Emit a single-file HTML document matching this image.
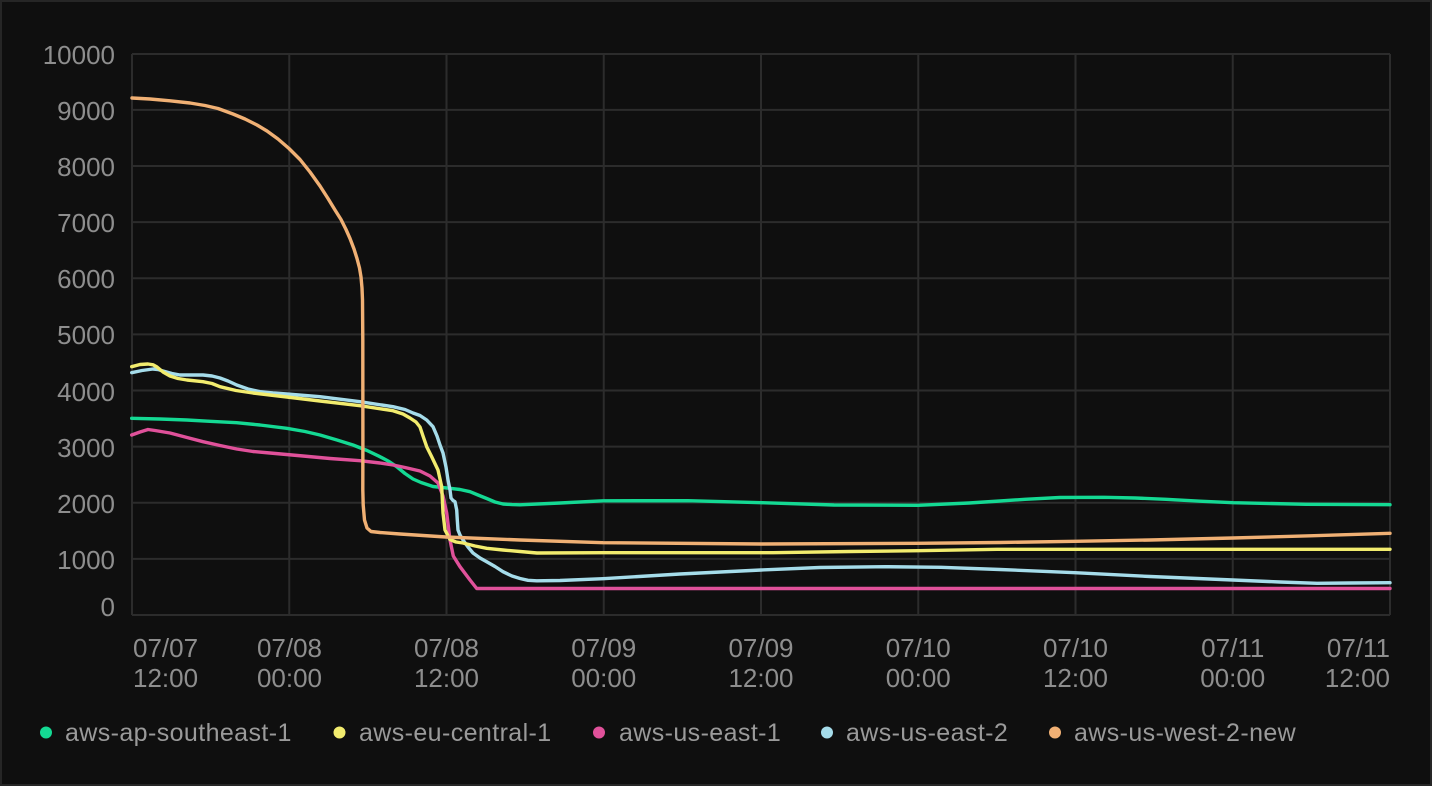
<!DOCTYPE html>
<html>
<head>
<meta charset="utf-8">
<style>
  html,body{margin:0;padding:0;background:#0f0f0f;}
  body{width:1432px;height:786px;overflow:hidden;}
  svg{display:block;}
  text{font-family:"Liberation Sans", sans-serif;}
</style>
</head>
<body>
<svg width="1432" height="786" viewBox="0 0 1432 786" xmlns="http://www.w3.org/2000/svg">
  <rect x="0" y="0" width="1432" height="786" fill="#0f0f0f"/>
  <rect x="1" y="1" width="1430" height="784" fill="none" stroke="#262626" stroke-width="2"/>

  <!-- grid -->
  <g stroke="#2c2c2c" stroke-width="2" fill="none">
    <line x1="132" y1="54" x2="1390" y2="54"/>
    <line x1="132" y1="109.9" x2="1390" y2="109.9"/>
    <line x1="132" y1="166" x2="1390" y2="166"/>
    <line x1="132" y1="222.1" x2="1390" y2="222.1"/>
    <line x1="132" y1="278.3" x2="1390" y2="278.3"/>
    <line x1="132" y1="334.4" x2="1390" y2="334.4"/>
    <line x1="132" y1="390.5" x2="1390" y2="390.5"/>
    <line x1="132" y1="446.6" x2="1390" y2="446.6"/>
    <line x1="132" y1="502.8" x2="1390" y2="502.8"/>
    <line x1="132" y1="558.9" x2="1390" y2="558.9"/>
    <line x1="132" y1="615" x2="1390" y2="615"/>
    <line x1="132" y1="54" x2="132" y2="615"/>
    <line x1="289.25" y1="54" x2="289.25" y2="615"/>
    <line x1="446.5" y1="54" x2="446.5" y2="615"/>
    <line x1="603.75" y1="54" x2="603.75" y2="615"/>
    <line x1="761" y1="54" x2="761" y2="615"/>
    <line x1="918.25" y1="54" x2="918.25" y2="615"/>
    <line x1="1075.5" y1="54" x2="1075.5" y2="615"/>
    <line x1="1232.75" y1="54" x2="1232.75" y2="615"/>
    <line x1="1390" y1="54" x2="1390" y2="615"/>
  </g>

  <!-- y labels -->
  <g fill="#8e8e8e" font-size="26" text-anchor="end">
    <text x="115" y="64">10000</text>
    <text x="115" y="120">9000</text>
    <text x="115" y="176">8000</text>
    <text x="115" y="232">7000</text>
    <text x="115" y="288">6000</text>
    <text x="115" y="344">5000</text>
    <text x="115" y="401">4000</text>
    <text x="115" y="457">3000</text>
    <text x="115" y="513">2000</text>
    <text x="115" y="569">1000</text>
    <text x="115" y="616">0</text>
  </g>

  <!-- x labels -->
  <g fill="#8e8e8e" font-size="26">
    <text x="133" y="657" text-anchor="start">07/07</text>
    <text x="133" y="687" text-anchor="start">12:00</text>
    <g text-anchor="middle">
      <text x="289.5" y="657">07/08</text><text x="289.5" y="687">00:00</text>
      <text x="446.5" y="657">07/08</text><text x="446.5" y="687">12:00</text>
      <text x="603.75" y="657">07/09</text><text x="603.75" y="687">00:00</text>
      <text x="761" y="657">07/09</text><text x="761" y="687">12:00</text>
      <text x="918.25" y="657">07/10</text><text x="918.25" y="687">00:00</text>
      <text x="1075.5" y="657">07/10</text><text x="1075.5" y="687">12:00</text>
      <text x="1232.75" y="657">07/11</text><text x="1232.75" y="687">00:00</text>
    </g>
    <text x="1390" y="657" text-anchor="end">07/11</text>
    <text x="1390" y="687" text-anchor="end">12:00</text>
  </g>

  <!-- series -->
  <g fill="none" stroke-width="3.4" stroke-linejoin="round" stroke-linecap="round">
    <!-- green: aws-ap-southeast-1 -->
    <path stroke="#14d993" d="M131.7,418.3 L160,419 L186.7,420 L210,421.3 L236.7,422.7 L260,425 L286.7,428.3 L305,431.5 L320,435 L337,440 L353,445 L367,450.5 L380,456.7 L389,461.5 L396.7,466.7 L405,473.5 L413,479 L421,482.5 L433,486.5 L450,488.3 L460,489.5 L470,491.7 L478,495 L486.7,498.5 L495,502 L503,504 L512,504.6 L520,504.8 L560,503 L603,500.8 L688,500.7 L761,502.7 L834,505 L918,505.3 L969,503 L1000,501 L1025,499.3 L1060,497.5 L1104,497.3 L1135,498 L1166,499.3 L1200,501.2 L1233,502.7 L1306,504.3 L1390,504.7"/>
    <!-- pink: aws-us-east-1 -->
    <path stroke="#e0519a" d="M131.7,435 L140,432 L148,429.5 L155,430.5 L170,433 L187,437.5 L203,441.7 L220,445.5 L236.7,449 L253,451.5 L270,453 L303,456 L330,458.5 L360,460.7 L380,463 L393,465 L405,467.5 L420,471 L430,476 L438,483 L443,496 L446.7,513 L450,540 L453.3,556 L460,566.7 L470,580 L476.7,588.5 L1390,588.5"/>
    <!-- blue: aws-us-east-2 -->
    <path stroke="#a5dcea" d="M131.7,372.7 L142,370.5 L153,369 L158,369.5 L163,371 L172,373.5 L180,375 L192,375 L203,375 L212,376 L220,378 L228,381 L236.7,385 L248,389 L260,391.7 L273,393 L286.7,394 L320,396.7 L360,401.7 L393,406.7 L405,409.5 L413,413 L420,415.5 L426.7,420 L433,426.7 L437,436 L440,445 L443,453 L446,467 L448,480 L450,490 L451,498 L453,500.5 L455,501.7 L456.7,510 L457.3,520 L458,530 L460,535 L463,540 L468,547 L473,553 L480,558 L486.7,561.7 L495,566.5 L503,571.7 L512,576 L520,578.5 L528,580.3 L536.7,580.8 L560,580.5 L603,578.7 L680,574 L761,570 L820,567.5 L885,566.7 L941,567.3 L1000,569.5 L1075,572.7 L1150,576.5 L1233,580 L1280,582 L1317,583.3 L1350,583 L1390,582.7"/>
    <!-- yellow: aws-eu-central-1 -->
    <path stroke="#f2ec6e" d="M131.7,366.7 L140,364.5 L148,364 L153,364.8 L157,367 L163,372 L170,376 L178,378.5 L187,380 L203,381.7 L212,383.5 L220,386.7 L236,390.5 L253,393 L270,395 L287,397 L320,401 L360,405.7 L393,410.7 L403,414 L410,418 L416,422 L420,427 L423,436 L426.7,446.7 L431.7,456.7 L438,470 L441.7,486.7 L443,513 L445,530 L450,539.5 L456,542 L463,543 L475,546 L486.7,548.3 L503,550 L520,551.5 L537,553 L603,552.7 L773,552.7 L850,551.5 L918,550.7 L997,549.3 L1390,549.3"/>
    <!-- orange: aws-us-west-2-new -->
    <path stroke="#f0b074" d="M132,98 L150,99 L170,100.8 L190,103 L205,105.5 L218,108.5 L233,114 L245,119 L257,125 L267,131 L278,139 L289,148.5 L300,159.5 L310,172 L320,186 L328,198.5 L335,210 L341,219.5 L346,229.5 L350,238.5 L354,249 L357,258.5 L359.5,268 L361,277 L362,288 L362.5,300 L362.8,340 L362.9,440 L362.8,490 L363.2,505 L364.5,520 L367,528 L371,531.5 L380,532.5 L400,534 L446,537 L520,540 L603,542.7 L761,544 L918,543.3 L1000,542.5 L1075,541.3 L1150,540 L1233,538 L1310,535.8 L1390,533.3"/>
  </g>

  <!-- legend -->
  <g font-size="25" fill="#9a9a9a" letter-spacing="0.4">
    <circle cx="46" cy="732.5" r="6" fill="#14d993"/>
    <text x="65" y="741">aws-ap-southeast-1</text>
    <circle cx="339.5" cy="732.5" r="6" fill="#f2ec6e"/>
    <text x="359" y="741">aws-eu-central-1</text>
    <circle cx="599" cy="732.5" r="6" fill="#e0519a"/>
    <text x="619" y="741">aws-us-east-1</text>
    <circle cx="827" cy="732.5" r="6" fill="#a5dcea"/>
    <text x="846" y="741">aws-us-east-2</text>
    <circle cx="1055" cy="732.5" r="6" fill="#f0b074"/>
    <text x="1074" y="741">aws-us-west-2-new</text>
  </g>
</svg>
</body>
</html>
